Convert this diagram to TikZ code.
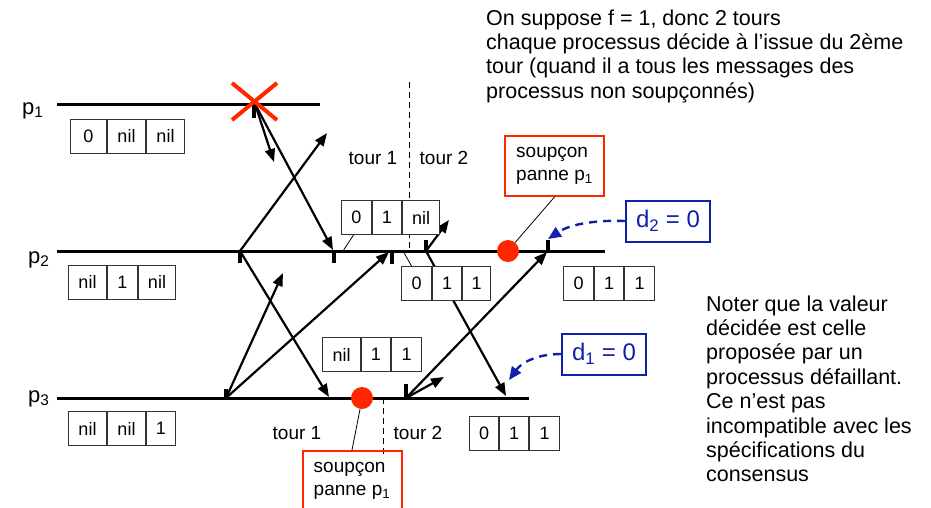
\documentclass[tikz,border=0pt]{standalone}
\usepackage{fontspec}
\setmainfont{Liberation Sans}
\usetikzlibrary{arrows.meta}
\definecolor{crash}{RGB}{255,38,0}
\definecolor{decide}{RGB}{16,32,168}
\newcommand{\notefont}{\fontsize{21.5}{24.4}\selectfont}
\newcommand{\labelfont}{\fontsize{19}{23}\selectfont}
\begin{document}
\begin{tikzpicture}[x=1pt,y=-1pt,
  proc/.style={line width=3pt},
  msg/.style={line width=2.2pt,-{Triangle[length=13pt,width=10pt]}},
  tickmark/.style={line width=3.2pt},
  cell/.style={draw=black!80,line width=1pt,fill=white,minimum height=34pt,
    inner sep=0pt,anchor=west,font=\fontsize{18}{20}\selectfont},
  suspect/.style={draw=crash,line width=2pt,minimum width=99pt,minimum height=60pt,
    align=left,inner sep=0pt,font=\labelfont},
  decision/.style={draw=decide,text=decide,line width=2pt,minimum width=84pt,
    minimum height=41pt,inner sep=0pt,font=\fontsize{24}{26}\selectfont},
  decarrow/.style={draw=decide,line width=2.4pt,dash pattern=on 8pt off 6pt,
    -{Triangle[length=13pt,width=11pt]}},
  round/.style={draw=black,line width=1pt,dash pattern=on 6pt off 4pt},
  link/.style={line width=0.8pt},
  dot/.style={circle,fill=crash,minimum size=22pt,inner sep=0pt},
  plabel/.style={anchor=base west,inner sep=0pt,font=\fontsize{22}{24}\selectfont},
  tourlabel/.style={font=\labelfont,inner sep=0pt},
  note/.style={anchor=base west,align=left,inner sep=0pt,font=\notefont}
]
\useasboundingbox (0,0) rectangle (931,507);

% process lines
\coordinate (p1a) at (57,104);  \coordinate (p1b) at (320,104);
\coordinate (p2a) at (57,251);  \coordinate (p2b) at (605,251);
\coordinate (p3a) at (57,398);  \coordinate (p3b) at (529,398);
\draw[proc] (p1a) -- (p1b);
\draw[proc] (p2a) -- (p2b);
\draw[proc] (p3a) -- (p3b);
\node[plabel] (lp1) at (22,114) {p\textsubscript{1}};
\node[plabel] (lp2) at (28,263) {p\textsubscript{2}};
\node[plabel] (lp3) at (28,402) {p\textsubscript{3}};

% round separators
\coordinate (sepTa) at (409,82);  \coordinate (sepTb) at (409,253);
\coordinate (sepBa) at (383,398); \coordinate (sepBb) at (383,458);
\draw[round] (sepTa) -- (sepTb);
\draw[round] (sepBa) -- (sepBb);
\node[tourlabel] (t1a) at (373,158) {tour 1};
\node[tourlabel] (t2a) at (444,158) {tour 2};
\node[tourlabel] (t1b) at (297,433) {tour 1};
\node[tourlabel] (t2b) at (418,433) {tour 2};

% events
\coordinate (s1) at (255,104);
\coordinate (s2) at (240,251);
\coordinate (s3) at (226,398);
\coordinate (r12) at (333,250);
\coordinate (r23) at (329,397);
\coordinate (r32) at (389,252);
\coordinate (l13) at (274,162);
\coordinate (l21) at (327,133);
\coordinate (l31) at (283,273);
\coordinate (s2b) at (426,251);
\coordinate (s3b) at (406,398);
\coordinate (r23b) at (506,396);
\coordinate (r32b) at (547,252);
\coordinate (l21b) at (449,220);
\coordinate (l31b) at (444,377);

% ticks
\draw[tickmark] (254,104) -- ++(0,14);
\draw[tickmark] (240,251) -- ++(0,12);
\draw[tickmark] (334,251) -- ++(0,12);
\draw[tickmark] (392,251) -- ++(0,13);
\draw[tickmark] (426,251) -- ++(0,-11);
\draw[tickmark] (548,251) -- ++(0,-11);
\draw[tickmark] (226,398) -- ++(0,-9);
\draw[tickmark] (406,398) -- ++(0,-14);

% round 1 messages
\draw[msg] (s1) -- (r12);
\draw[msg] (s1) -- (l13);
\draw[msg] (s2) -- (l21);
\draw[msg] (s2) -- (r23);
\draw[msg] (s3) -- (l31);
\draw[msg] (s3) -- (r32);
% round 2 messages
\draw[msg] (s2b) -- (l21b);
\draw[msg] (s2b) -- (r23b);
\draw[msg] (s3b) -- (l31b);
\draw[msg] (s3b) -- (r32b);

% crash of p1
\coordinate (xa) at (232,83);  \coordinate (xb) at (277,120);
\coordinate (xc) at (232,120); \coordinate (xd) at (277,83);
\draw[crash,line width=4pt] (xa) -- (xb);
\draw[crash,line width=4pt] (xc) -- (xd);

% state vectors
\node[cell,minimum width=36pt] (b1a) at (70,136) {0};
\node[cell,minimum width=38pt] (b1b) at (b1a.east) {nil};
\node[cell,minimum width=38pt] (b1c) at (b1b.east) {nil};

\node[cell,minimum width=38pt] (b2a) at (68,282) {nil};
\node[cell,minimum width=30pt] (b2b) at (b2a.east) {1};
\node[cell,minimum width=37pt] (b2c) at (b2b.east) {nil};

\node[cell,minimum width=38pt] (b3a) at (68,428.5) {nil};
\node[cell,minimum width=38pt] (b3b) at (b3a.east) {nil};
\node[cell,minimum width=29pt] (b3c) at (b3b.east) {1};

\node[cell,minimum width=30pt] (b4a) at (341,217.5) {0};
\node[cell,minimum width=29pt] (b4b) at (b4a.east) {1};
\node[cell,minimum width=37pt] (b4c) at (b4b.east) {nil};

\node[cell,minimum width=30pt] (b5a) at (401,283.5) {0};
\node[cell,minimum width=29pt] (b5b) at (b5a.east) {1};
\node[cell,minimum width=28pt] (b5c) at (b5b.east) {1};

\node[cell,minimum width=38pt] (b6a) at (322,354.5) {nil};
\node[cell,minimum width=29pt] (b6b) at (b6a.east) {1};
\node[cell,minimum width=30pt] (b6c) at (b6b.east) {1};

\node[cell,minimum width=29pt] (b7a) at (469,433) {0};
\node[cell,minimum width=29pt] (b7b) at (b7a.east) {1};
\node[cell,minimum width=30pt] (b7c) at (b7b.east) {1};

\node[cell,minimum width=30pt] (b8a) at (563,283) {0};
\node[cell,minimum width=29pt] (b8b) at (b8a.east) {1};
\node[cell,minimum width=30pt] (b8c) at (b8b.east) {1};

\coordinate (c4) at (343,251);
\coordinate (c5) at (403,251);
\draw[link] (c4) -- ([xshift=-3pt]b4a.south);
\draw[link] (c5) -- ([xshift=-5pt]b5a.north);

% suspicions
\node[dot] (dotA) at (508,251) {};
\node[dot] (dotB) at (362,398) {};
\node[suspect] (susA) at (554.5,166) {soupçon\\panne p\textsubscript{1}};
\node[suspect] (susB) at (352,481) {soupçon\\panne p\textsubscript{1}};
\draw[link] (dotA.50) -- (susA.south);
\draw[link] (dotB.260) -- (susB.north);

% decisions
\node[decision] (d2) at (668,221) {d\textsubscript{2} = 0};
\node[decision] (d1) at (604,354) {d\textsubscript{1} = 0};
\coordinate (d2t) at (548,239);
\coordinate (d1t) at (509,380);
\draw[decarrow] (d2.west) .. controls (600,220) and (572,223) .. (d2t);
\draw[decarrow] (d1.west) .. controls (538,354) and (522,362) .. (d1t);

% notes (anchored at the baseline of their last line)
\node[note] (noteTop) at (486,98.2)
  {On suppose f = 1, donc 2 tours\\
   chaque processus décide à l’issue du 2ème\\
   tour (quand il a tous les messages des\\
   processus non soupçonnés)};
\node[note] (noteRight) at (706,481.8)
  {Noter que la valeur\\
   décidée est celle\\
   proposée par un\\
   processus défaillant.\\
   Ce n’est pas\\
   incompatible avec les\\
   spécifications du\\
   consensus};
\end{tikzpicture}
\end{document}
